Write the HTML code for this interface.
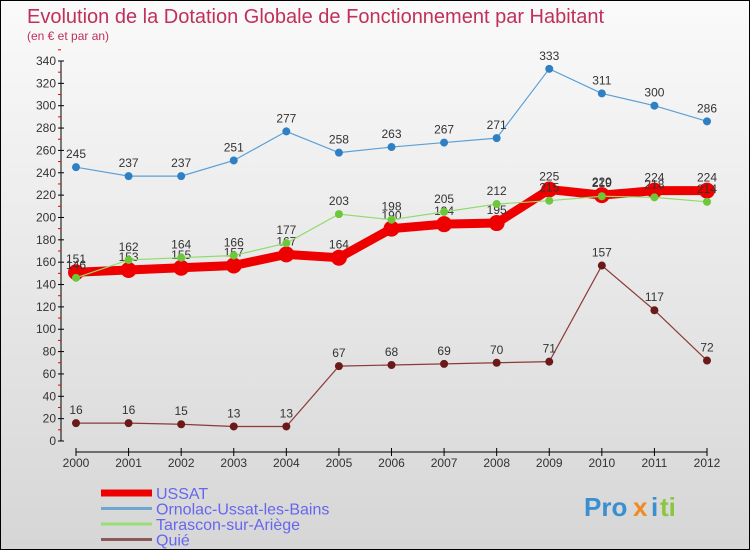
<!DOCTYPE html>
<html><head><meta charset="utf-8"><style>
body{margin:0;}
#c{width:750px;height:550px;position:relative;font-family:"Liberation Sans",sans-serif;background:linear-gradient(#fafafa,#d6d6d6);border:1px solid #000;box-sizing:border-box;overflow:hidden}
</style></head><body>
<div id="c">
<svg id="s" width="750" height="550" style="position:absolute;left:0;top:0">
<text x="26" y="22" font-size="20" fill="#c0305a">Evolution de la Dotation Globale de Fonctionnement par Habitant</text>
<text x="26" y="39" font-size="12" fill="#c0305a">(en € et par an)</text>
<g id="axes"></g><g id="series"></g><g id="legend"></g>
<g font-size="26" font-weight="bold">
<text x="583" y="515" fill="#3a8fd0">Pro</text><text x="632" y="515" fill="#f08a20">x</text><text x="650" y="515" fill="#3a8fd0">i</text><text x="659" y="515" fill="#8cc63f">ti</text>
</g>
</svg>
</div>
<script>
const years=["2000","2001","2002","2003","2004","2005","2006","2007","2008","2009","2010","2011","2012"];
const ussat=[151,153,155,157,167,164,190,194,195,225,220,224,224];
const ornolac=[245,237,237,251,277,258,263,267,271,333,311,300,286];
const tarascon=[146,162,164,166,177,203,198,205,212,215,219,218,214];
const quie=[16,16,15,13,13,67,68,69,70,71,157,117,72];
const yTicks=[0,20,40,60,80,100,120,140,160,180,200,220,240,260,280,300,320,340];
const NS="http://www.w3.org/2000/svg";
const X=i=>75+i*(631/12);
const Y=v=>440-v*(380/340);
function mk(t,a,p){const e=document.createElementNS(NS,t);for(const k in a)e.setAttribute(k,a[k]);p.appendChild(e);return e;}
const ax=document.getElementById('axes');
let yl=mk('line',{x1:60,y1:60,x2:60,y2:440,stroke:'#000'},ax);


yTicks.forEach(v=>{
 mk('line',{x1:57,y1:Y(v),x2:63,y2:Y(v),stroke:'#000'},ax);
 mk('line',{x1:57,y1:Y(v+10),x2:60,y2:Y(v+10),stroke:'#e00'},ax);
 const t=mk('text',{x:55,y:Y(v)+4,'font-size':12,fill:'#333','text-anchor':'end'},ax);t.textContent=v;
 
 
});
let xl=mk('line',{x1:75,y1:451,x2:706,y2:451,stroke:'#000'},ax);


years.forEach((y,i)=>{
 mk('line',{x1:X(i),y1:447,x2:X(i),y2:455,stroke:'#000'},ax);
 const t=mk('text',{x:X(i),y:466,'font-size':12,fill:'#333','text-anchor':'middle'},ax);t.textContent=y;
 
 
});
const sg=document.getElementById('series');
function series(vals,name,col,dot,w,r){
 const g=mk('g',{},sg);
 
 
 mk('polyline',{points:vals.map((v,i)=>X(i)+','+Y(v)).join(' '),fill:'none',stroke:col,'stroke-width':w},g);
 vals.forEach((v,i)=>{
  const c=mk('circle',{cx:X(i),cy:Y(v),r:r,fill:dot},g);
  
  
  const t=mk('text',{x:X(i),y:Y(v)-9,'font-size':12,fill:'#333','text-anchor':'middle'},g);t.textContent=v;
  
  
 });
}
series(ornolac,'ornolac','#5aa0d8','#2f7fc4',1.2,4);
series(quie,'quie','#8b3a3a','#6a1a1a',1.2,4);
series(ussat,'ussat','#ee0000','#ee0000',9,8);
series(tarascon,'tarascon','#8fdc6a','#6cc83a',1.2,4);
const lg=document.getElementById('legend');
[["USSAT","#ee0000",7],["Ornolac-Ussat-les-Bains","#6aa8d0",3],["Tarascon-sur-Ariège","#99dd77",3],["Quié","#8a5a5a",3]].forEach((d,i)=>{
 const y=492+i*15.5;
 const l=mk('line',{x1:100,y1:y,x2:151,y2:y,stroke:d[1],'stroke-width':d[2]},lg);
 
 
 const t=mk('text',{x:155,y:y+6,'font-size':16,fill:'#6666ee'},lg);t.textContent=d[0];
 
 
});
</script>
</body></html>
